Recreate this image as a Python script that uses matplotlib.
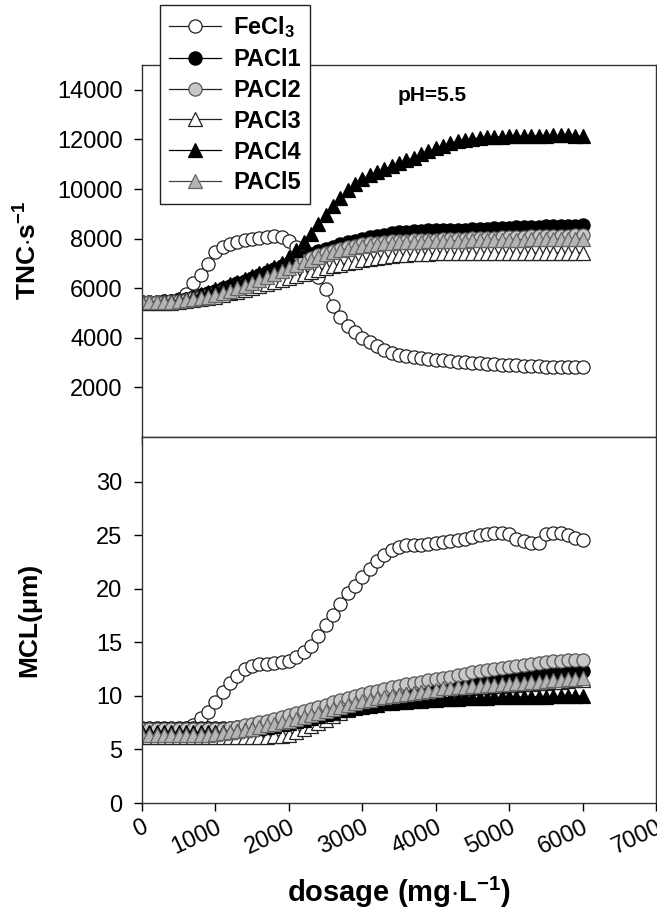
import numpy as np
import matplotlib
matplotlib.use("Agg")
import matplotlib.pyplot as plt
from matplotlib.lines import Line2D

plt.rcParams["font.family"] = ["Liberation Sans", "DejaVu Sans"]
plt.rcParams["mathtext.fontset"] = "custom"
plt.rcParams["mathtext.rm"] = "Liberation Sans:bold"
plt.rcParams["mathtext.bf"] = "Liberation Sans:bold"
plt.rcParams["mathtext.it"] = "Liberation Sans:bold:italic"

# dosage grid (mg/L), one reading every 100 mg/L
dosage = np.arange(0, 6001, 100)

# top panel: TNC/s
fecl3_tnc = [5450, 5450, 5450, 5460, 5480, 5550, 5750, 6200, 6530, 6980,
             7450, 7680, 7800, 7880, 7950, 8000, 8030, 8070, 8100, 8080,
             7900, 7650, 7300, 6900, 6450, 5950, 5300, 4830, 4480, 4220,
             4000, 3830, 3660, 3520, 3380, 3300, 3250, 3210, 3180, 3150,
             3120, 3090, 3060, 3040, 3010, 2990, 2970, 2950, 2930, 2920,
             2900, 2890, 2880, 2860, 2850, 2840, 2840, 2840, 2830, 2830,
             2830]
pacl1_tnc = [5450, 5450, 5460, 5470, 5490, 5520, 5570, 5640, 5720, 5810,
             5900, 6000, 6100, 6200, 6310, 6420, 6540, 6660, 6780, 6900,
             7020, 7140, 7260, 7380, 7490, 7590, 7680, 7770, 7850, 7920,
             7990, 8050, 8110, 8160, 8210, 8250, 8280, 8300, 8320, 8330,
             8340, 8340, 8350, 8350, 8360, 8370, 8380, 8400, 8410, 8430,
             8440, 8450, 8460, 8470, 8480, 8490, 8500, 8500, 8510, 8520,
             8530]
pacl2_tnc = [5450, 5450, 5450, 5460, 5480, 5500, 5540, 5590, 5650, 5720,
             5800, 5880, 5970, 6060, 6160, 6270, 6380, 6500, 6620, 6740,
             6860, 6980, 7100, 7210, 7320, 7420, 7510, 7590, 7660, 7720,
             7770, 7810, 7840, 7870, 7890, 7910, 7920, 7930, 7940, 7950,
             7960, 7970, 7980, 7990, 8000, 8010, 8020, 8030, 8040, 8050,
             8060, 8070, 8080, 8090, 8100, 8110, 8110, 8120, 8120, 8130,
             8130]
pacl3_tnc = [5400, 5400, 5400, 5410, 5420, 5440, 5470, 5510, 5550, 5600,
             5660, 5720, 5790, 5860, 5940, 6020, 6100, 6180, 6260, 6340,
             6420, 6500, 6580, 6660, 6740, 6810, 6880, 6950, 7010, 7070,
             7120, 7170, 7220, 7260, 7300, 7330, 7350, 7370, 7380, 7390,
             7400, 7400, 7400, 7410, 7410, 7410, 7410, 7420, 7420, 7420,
             7420, 7420, 7420, 7420, 7420, 7430, 7430, 7430, 7430, 7430,
             7430]
pacl4_tnc = [5450, 5450, 5460, 5470, 5490, 5520, 5580, 5660, 5750, 5850,
             5950, 6050, 6150, 6260, 6370, 6480, 6600, 6720, 6840, 7000,
             7250, 7550, 7850, 8200, 8600, 8950, 9300, 9650, 9950, 10200,
             10400, 10550, 10680, 10800, 10920, 11030, 11150, 11270, 11400, 11520,
             11640, 11750, 11850, 11930, 11990, 12030, 12060, 12080, 12100, 12110,
             12120, 12130, 12140, 12150, 12150, 12150, 12160, 12160, 12160, 12150,
             12120]
pacl5_tnc = [5450, 5440, 5440, 5450, 5460, 5480, 5510, 5550, 5600, 5660,
             5730, 5810, 5900, 5990, 6090, 6200, 6320, 6440, 6560, 6680,
             6800, 6920, 7040, 7150, 7260, 7360, 7450, 7530, 7600, 7660,
             7710, 7750, 7780, 7810, 7830, 7850, 7860, 7870, 7880, 7890,
             7900, 7905, 7910, 7915, 7920, 7925, 7930, 7935, 7940, 7945,
             7950, 7955, 7960, 7965, 7970, 7975, 7980, 7985, 7990, 7995,
             8000]

# bottom panel: MCL (um)
fecl3_mcl = [6.8, 6.8, 6.8, 6.8, 6.8, 6.8, 6.9, 7.3, 7.9, 8.5,
             9.4, 10.4, 11.2, 11.9, 12.5, 12.8, 12.95, 13.0, 13.1, 13.2,
             13.3, 13.6, 14.1, 14.7, 15.6, 16.6, 17.6, 18.6, 19.6, 20.3,
             21.1, 21.9, 22.6, 23.2, 23.6, 23.9, 24.1, 24.1, 24.1, 24.2,
             24.3, 24.4, 24.5, 24.6, 24.7, 24.85, 25.0, 25.1, 25.2, 25.2,
             25.1, 24.7, 24.45, 24.3, 24.3, 25.1, 25.2, 25.2, 25.0, 24.8,
             24.6]
pacl1_mcl = [7.0, 7.0, 7.0, 7.0, 7.0, 7.0, 7.0, 7.0, 7.0, 7.0,
             7.0, 7.0, 7.05, 7.1, 7.2, 7.3, 7.45, 7.6, 7.75, 7.9,
             8.05, 8.2, 8.35, 8.5, 8.65, 8.8, 8.95, 9.1, 9.25, 9.4,
             9.55, 9.7, 9.85, 9.95, 10.05, 10.15, 10.25, 10.35, 10.45, 10.55,
             10.65, 10.75, 10.85, 10.95, 11.05, 11.15, 11.25, 11.35, 11.45, 11.55,
             11.65, 11.75, 11.85, 11.9, 11.95, 12.0, 12.05, 12.1, 12.15, 12.2,
             12.3]
pacl2_mcl = [6.9, 6.9, 6.9, 6.9, 6.9, 6.9, 6.9, 6.9, 6.9, 6.9,
             6.9, 6.95, 7.0, 7.1, 7.25, 7.4, 7.55, 7.7, 7.85, 8.0,
             8.2, 8.4, 8.6, 8.8, 9.0, 9.2, 9.4, 9.6, 9.8, 10.0,
             10.2, 10.35, 10.5, 10.65, 10.8, 10.95, 11.1, 11.2, 11.35, 11.45,
             11.6, 11.7, 11.8, 11.95, 12.05, 12.2, 12.3, 12.4, 12.5, 12.6,
             12.7, 12.8, 12.9, 13.0, 13.1, 13.2, 13.25, 13.3, 13.35, 13.4,
             13.4]
pacl3_mcl = [6.2, 6.2, 6.2, 6.2, 6.2, 6.2, 6.2, 6.2, 6.2, 6.2,
             6.2, 6.2, 6.2, 6.2, 6.2, 6.2, 6.2, 6.2, 6.25, 6.3,
             6.4, 6.6, 6.9, 7.2, 7.5, 7.8, 8.1, 8.4, 8.7, 8.95,
             9.2, 9.4, 9.6, 9.8, 9.95, 10.1, 10.2, 10.3, 10.4, 10.45,
             10.5, 10.55, 10.6, 10.65, 10.7, 10.75, 10.8, 10.85, 10.9, 10.95,
             11.0, 11.05, 11.1, 11.15, 11.2, 11.25, 11.3, 11.35, 11.4, 11.45,
             11.5]
pacl4_mcl = [6.6, 6.6, 6.6, 6.6, 6.6, 6.6, 6.6, 6.6, 6.6, 6.6,
             6.6, 6.6, 6.65, 6.7, 6.8, 6.9, 7.0, 7.1, 7.2, 7.35,
             7.5, 7.65, 7.8, 7.95, 8.1, 8.3, 8.5, 8.65, 8.8, 8.9,
             9.0, 9.1, 9.2, 9.3, 9.35, 9.4, 9.45, 9.5, 9.55, 9.6,
             9.65, 9.7, 9.72, 9.75, 9.78, 9.8, 9.82, 9.84, 9.86, 9.88,
             9.9, 9.91, 9.92, 9.93, 9.94, 9.95, 9.96, 9.97, 9.98, 9.99,
             10.0]
pacl5_mcl = [6.4, 6.4, 6.4, 6.4, 6.4, 6.4, 6.4, 6.4, 6.4, 6.4,
             6.45, 6.5, 6.6, 6.7, 6.8, 6.95, 7.1, 7.25, 7.4, 7.55,
             7.7, 7.85, 8.0, 8.2, 8.4, 8.6, 8.8, 9.0, 9.2, 9.35,
             9.5, 9.65, 9.8, 9.9, 10.0, 10.1, 10.2, 10.3, 10.4, 10.5,
             10.6, 10.7, 10.75, 10.8, 10.85, 10.9, 10.95, 11.0, 11.05, 11.1,
             11.15, 11.2, 11.25, 11.3, 11.35, 11.4, 11.45, 11.5, 11.55, 11.6,
             11.65]

labels = [r"FeCl$_3$", "PACl1", "PACl2", "PACl3", "PACl4", "PACl5"]
tnc_series = [fecl3_tnc, pacl1_tnc, pacl2_tnc, pacl3_tnc, pacl4_tnc, pacl5_tnc]
mcl_series = [fecl3_mcl, pacl1_mcl, pacl2_mcl, pacl3_mcl, pacl4_mcl, pacl5_mcl]

styles = [
    dict(marker="o", mfc="white", mec="#222222", color="#222222"),
    dict(marker="o", mfc="black", mec="black", color="black"),
    dict(marker="o", mfc="#c8c8c8", mec="#555555", color="#222222"),
    dict(marker="^", mfc="white", mec="#222222", color="#222222"),
    dict(marker="^", mfc="black", mec="black", color="black"),
    dict(marker="^", mfc="#b4b4b4", mec="#666666", color="#444444"),
]


def msize(st):
    return 9.5 if st["marker"] == "o" else 10


W, H = 657, 915
fig = plt.figure(figsize=(W / 100, H / 100), dpi=100)
left, right = 142 / W, 656 / W
ax1 = fig.add_axes([left, 1 - 437 / H, right - left, (437 - 65) / H])
ax2 = fig.add_axes([left, 1 - 803 / H, right - left, (803 - 437) / H])

for ax, series in [(ax1, tnc_series), (ax2, mcl_series)]:
    for lab, vals, st in zip(labels, series, styles):
        ax.plot(dosage, vals, lw=0.8, ms=msize(st), mew=0.9, label=lab, **st)
    ax.set_xlim(0, 7000)
    ax.set_xticks(range(0, 7001, 1000))
    ax.tick_params(direction="out", length=6, width=1, labelsize=17,
                   top=False, right=False)
    ax.tick_params(axis="y", pad=8)
    for sp in ax.spines.values():
        sp.set_linewidth(1.0)
        sp.set_color("#333333")

ax1.set_ylim(0, 15000)
ax1.set_yticks(range(2000, 14001, 2000))
ax1.tick_params(axis="x", labelbottom=False)
ax1.set_ylabel(r"TNC$\cdot$s$^{-1}$", fontsize=19, fontweight="bold")
ax1.text((432 - 142) / (656 - 142), (437 - 95) / (437 - 65), "pH=5.5",
         transform=ax1.transAxes, fontsize=15, fontweight="bold",
         ha="center", va="center")

ax2.set_ylim(0, 34.2)
ax2.set_yticks(range(0, 31, 5))
ax2.set_ylabel("MCL(μm)", fontsize=19, fontweight="bold")
ax2.set_xlabel(r"dosage (mg$\cdot$L$^{-1}$)", fontsize=21, fontweight="bold",
               labelpad=12)
for t in ax2.get_xticklabels():
    t.set_rotation(25)
    t.set_ha("right")
    t.set_rotation_mode("anchor")

ax1.yaxis.set_label_coords(-0.196, 0.5)
ax2.yaxis.set_label_coords(-0.196, 0.5)

handles = [Line2D([], [], lw=0.9, ms=msize(st), mew=0.9, **st) for st in styles]
fig.legend(handles, labels, loc="upper left",
           bbox_to_anchor=(160 / W, 1 - 5 / H), bbox_transform=fig.transFigure,
           frameon=True, fancybox=False, edgecolor="#222222", framealpha=1,
           prop={"weight": "bold", "size": 17}, handlelength=2.2,
           handletextpad=0.5, labelspacing=0.33, borderpad=0.4,
           borderaxespad=0)
fig.legends[0].get_frame().set_linewidth(1.0)

fig.savefig("out.png", dpi=100)
